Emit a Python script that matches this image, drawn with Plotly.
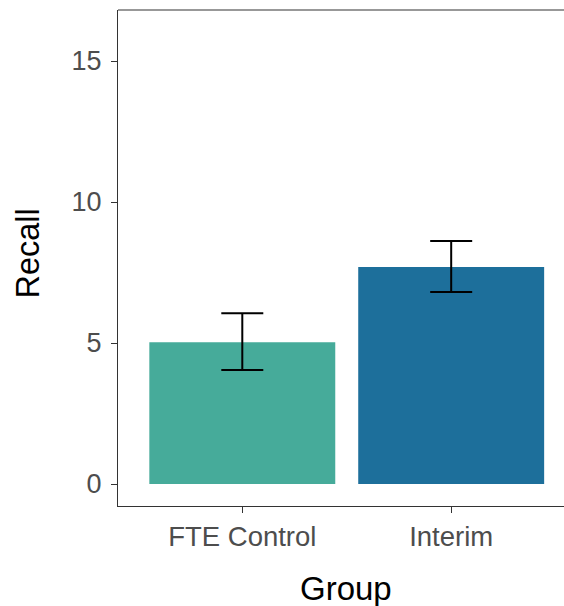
import plotly.graph_objects as go

groups = ["FTE Control", "Interim"]
recall = [5.03, 7.70]
err_upper = [6.06, 8.62]
err_lower = [4.04, 6.81]
colors = ["#46AB9A", "#1D6F9B"]

fig = go.Figure()
fig.add_trace(go.Bar(
    x=groups, y=recall, width=0.89,
    marker=dict(color=colors, line=dict(width=0)),
    error_y=dict(type="data", symmetric=False,
                 array=[u - m for u, m in zip(err_upper, recall)],
                 arrayminus=[m - l for m, l in zip(recall, err_lower)],
                 color="black", thickness=2, width=21),
    showlegend=False,
))

font = "Liberation Sans, Arial, sans-serif"
fig.update_layout(
    width=564, height=606,
    margin=dict(l=118, r=0, t=10, b=100),
    plot_bgcolor="white", paper_bgcolor="white",
    font=dict(family=font),
    xaxis=dict(
        range=[-0.595, 1.54], showgrid=False, zeroline=False,
        showline=True, linecolor="#333333", linewidth=1.2,
        ticks="outside", ticklen=6, tickcolor="#333333", tickwidth=1.2,
        tickfont=dict(size=27.5, color="#4D4D4D", family=font),
    ),
    yaxis=dict(
        range=[-0.78, 16.81], showgrid=False, zeroline=False,
        showline=True, linecolor="#333333", linewidth=1.2,
        ticks="outside", ticklen=6, tickcolor="#333333", tickwidth=1.2,
        ticklabelstandoff=4,
        tickvals=[0, 5, 10, 15],
        tickfont=dict(size=27, color="#4D4D4D", family=font),
    ),
    shapes=[dict(type="line", xref="paper", yref="paper", x0=0, x1=1, y0=1, y1=1,
                 line=dict(color="#333333", width=1.2))],
    annotations=[
        dict(text="Group", xref="paper", yref="paper", x=0.511, y=-0.167,
             xanchor="center", yanchor="middle", showarrow=False,
             font=dict(size=33, color="black", family=font)),
        dict(text="Recall", xref="paper", yref="paper", x=-0.2018, y=0.509,
             xanchor="center", yanchor="middle", showarrow=False, textangle=-90,
             font=dict(size=32.5, color="black", family=font)),
    ],
)

fig.write_html("out.html", config={"displayModeBar": False},
               post_script="document.body.style.margin='0';document.body.style.overflow='hidden';")
